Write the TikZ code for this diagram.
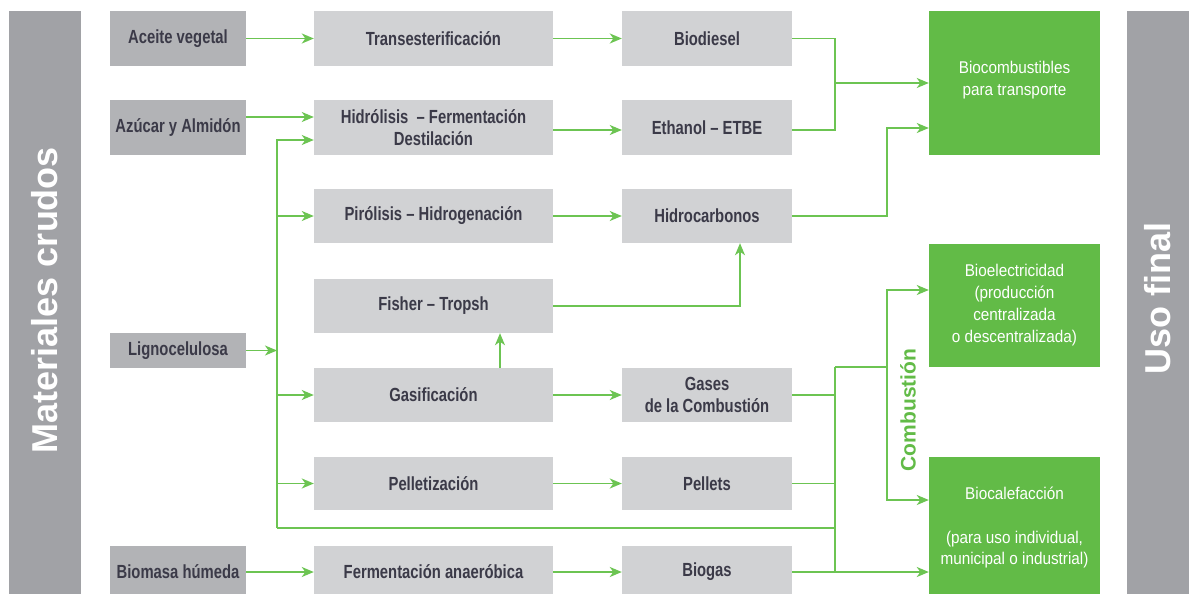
\documentclass[tikz,border=0pt]{standalone}
\usepackage{fontspec}
\setmainfont{Liberation Sans}
\newfontfamily\cond[FakeStretch=0.78]{Liberation Sans}
\newfontfamily\condw[FakeStretch=0.9]{Liberation Sans}
\usetikzlibrary{arrows.meta}
\definecolor{boxgray}{HTML}{D1D2D4}
\definecolor{srcgray}{HTML}{B2B3B6}
\definecolor{bargray}{HTML}{A1A2A6}
\definecolor{boxgreen}{HTML}{62BB47}
\definecolor{linegreen}{HTML}{6CC452}
\definecolor{txtdark}{HTML}{3B3A48}
\tikzset{
  base/.style={rectangle, inner sep=0pt, align=center, draw=none},
  srcbox/.style={base, fill=srcgray, minimum width=136pt, text=txtdark,
    font=\cond\bfseries\fontsize{19}{22}\selectfont},
  procbox/.style={base, fill=boxgray, minimum width=239pt, text=txtdark,
    font=\cond\bfseries\fontsize{19}{22}\selectfont},
  prodbox/.style={base, fill=boxgray, minimum width=170pt, text=txtdark,
    font=\cond\bfseries\fontsize{19}{22}\selectfont},
  usebox/.style={base, fill=boxgreen, minimum width=171pt, text=white,
    font=\condw\fontsize{17}{22}\selectfont},
  sidebar/.style={base, fill=bargray},
  bartext/.style={text=white, font=\bfseries\fontsize{36}{40}\selectfont, rotate=90, inner sep=0pt},
  conn/.style={draw=linegreen, line width=1.8pt},
  arr/.style={conn, -{Stealth[length=12pt,width=10pt,inset=3.5pt]}},
}
\begin{document}
\begin{tikzpicture}[x=1pt,y=-1pt]
\useasboundingbox (0,0) rectangle (1189,594);
% side bars
\node[sidebar, minimum width=72pt, minimum height=588pt] (barL) at (45,305) {};
\node[bartext] (barLtxt) at (45,300) {Materiales crudos};
\node[sidebar, minimum width=62pt, minimum height=588pt] (barR) at (1158,305) {};
\node[bartext] (barRtxt) at (1158,298) {Uso final};
% source boxes
\node[srcbox, minimum height=55pt] (aceite) at (178,38.5) {Aceite vegetal};
\node[srcbox, minimum height=55pt] (azucar) at (178,127.5) {Azúcar y Almidón};
\node[srcbox, minimum height=35pt] (ligno) at (178,350.5) {Lignocelulosa};
\node[srcbox, minimum height=52pt] (biomasa) at (178,572) {Biomasa húmeda};
% process boxes
\node[procbox, minimum height=55pt] (trans) at (433.5,38.5) {Transesterificación};
\node[procbox, minimum height=55pt] (hidro) at (433.5,127.5) {Hidrólisis \ – Fermentación\\Destilación};
\node[procbox, minimum height=54pt] (piro) at (433.5,216) {Pirólisis – Hidrogenación};
\node[procbox, minimum height=54pt] (fisher) at (433.5,306) {Fisher – Tropsh};
\node[procbox, minimum height=54pt] (gasif) at (433.5,395) {Gasificación};
\node[procbox, minimum height=53pt] (pellet) at (433.5,483.5) {Pelletización};
\node[procbox, minimum height=52pt] (ferm) at (433.5,572) {Fermentación anaeróbica};
% product boxes
\node[prodbox, minimum height=55pt] (biodiesel) at (707,38.5) {Biodiesel};
\node[prodbox, minimum height=55pt] (ethanol) at (707,127.5) {Ethanol – ETBE};
\node[prodbox, minimum height=54pt] (hidroc) at (707,216) {Hidrocarbonos};
\node[prodbox, minimum height=54pt] (gases) at (707,395) {Gases\\de la Combustión};
\node[prodbox, minimum height=53pt] (pellets) at (707,483.5) {Pellets};
\node[prodbox, minimum height=52pt] (biogas) at (707,572) {Biogas};
% end-use boxes
\node[usebox, minimum height=144pt] (biocomb) at (1014.5,83) {};
\node[text=white, font=\condw\fontsize{17}{22}\selectfont, align=center, inner sep=0pt] (biocombtxt) at (1014.5,80) {Biocombustibles\\para transporte};
\node[usebox, minimum height=123pt] (bioelec) at (1014.5,305.5) {Bioelectricidad\\(producción\\centralizada\\o descentralizada)};
\node[usebox, minimum height=141pt] (biocal) at (1014.5,527.5) {Biocalefacción\\[22pt](para uso individual,\\municipal o industrial)};
% helper coordinates
\coordinate (trunkTop) at (277,140);
\coordinate (trunkBot) at (277,528);
\coordinate (busA) at (835,0);
\coordinate (busB) at (887,0);
\coordinate (combTop) at (835,367);
\coordinate (bc2) at ([yshift=-45pt]biocomb.west);
\coordinate (be1) at ([yshift=15.5pt]bioelec.west);
\coordinate (bh1) at ([yshift=27.5pt]biocal.west);
\coordinate (bh2) at (biogas.east -| biocal.west);
% row 1
\draw[arr] (aceite.east) -- (trans.west);
\draw[arr] (trans.east) -- (biodiesel.west);
% row 2
\draw[arr] ([yshift=10.5pt]azucar.east) -- ([yshift=10.5pt]hidro.west);
\draw[arr] ([yshift=-2.5pt]hidro.east) -- ([yshift=-2.5pt]ethanol.west);
% trunk
\draw[arr] (trunkBot) -- (trunkTop) -- (trunkTop -| hidro.west);
\draw[arr] (ligno.east) -- (ligno.east -| trunkTop);
\draw[arr] (piro.west -| trunkTop) -- (piro.west);
\draw[arr] (gasif.west -| trunkTop) -- (gasif.west);
\draw[arr] (pellet.west -| trunkTop) -- (pellet.west);
\draw[conn] (trunkBot) -- (trunkBot -| busA);
% process to product
\draw[arr] (piro.east) -- (hidroc.west);
\draw[arr] (gasif.east) -- (gases.west);
\draw[arr] (pellet.east) -- (pellets.west);
\draw[arr] (biomasa.east) -- (ferm.west);
\draw[arr] (ferm.east) -- (biogas.west);
% Fischer-Tropsch
\draw[arr] ([xshift=66.5pt]gasif.north) -- ([xshift=66.5pt]fisher.south);
\draw[arr] (fisher.east) -| ([xshift=33pt]hidroc.south);
% to biocombustibles
\draw[conn] (biodiesel.east) -- (biodiesel.east -| busA) -- ([yshift=-2.5pt]ethanol.east -| busA) -- ([yshift=-2.5pt]ethanol.east);
\draw[arr] (biocomb.west -| busA) -- (biocomb.west);
\draw[arr] (hidroc.east) -- (hidroc.east -| busB) -- (bc2 -| busB) -- (bc2);
% combustion bus
\draw[conn] (gases.east) -- (gases.east -| busA);
\draw[conn] (pellets.east) -- (pellets.east -| busA);
\draw[conn] (combTop) -- (biogas.east -| busA);
\draw[arr] (biogas.east) -- (bh2);
\draw[conn] (combTop) -- (combTop -| busB);
\draw[arr] (bh1 -| busB) -- (be1 -| busB) -- (be1);
\draw[arr] (be1 -| busB) -- (bh1 -| busB) -- (bh1);
\node[text=boxgreen, font=\bfseries\fontsize{21}{24}\selectfont, rotate=90, inner sep=0pt] (comb) at (908,410) {Combustión};
\end{tikzpicture}
\end{document}
